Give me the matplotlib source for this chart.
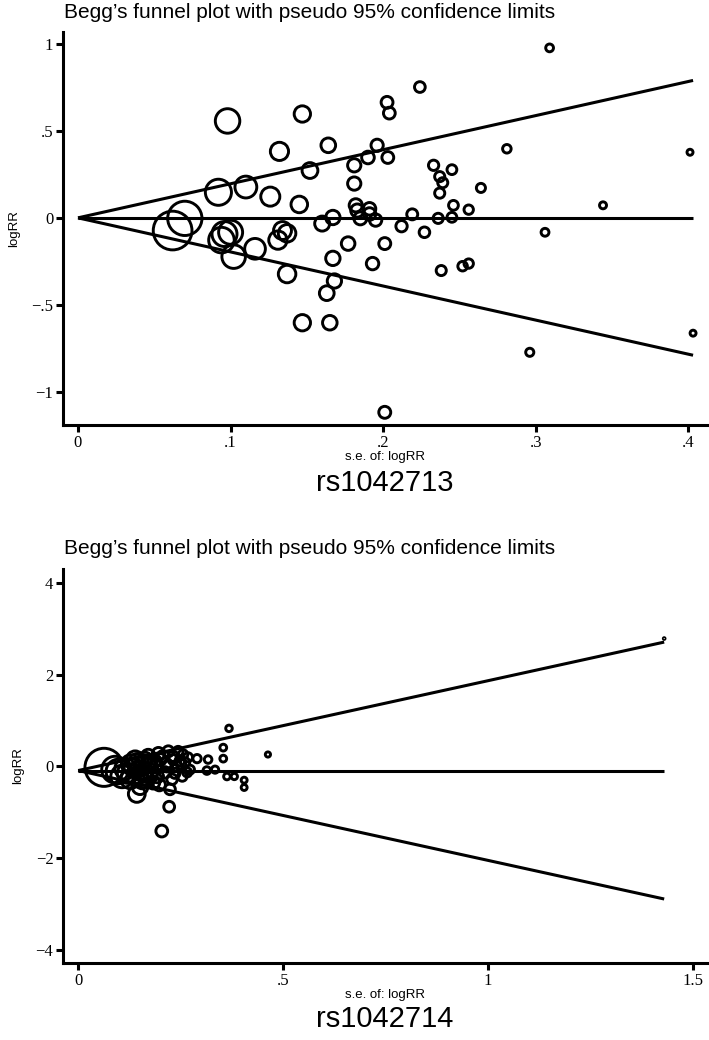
#!/usr/bin/env python3
"""Begg's funnel plots for rs1042713 and rs1042714"""

import matplotlib
matplotlib.use('Agg')
import matplotlib.pyplot as plt
import numpy as np

# rs1042713: standard error and log relative risk for each study
se_713 = [0.062, 0.070, 0.092, 0.098, 0.096, 0.100, 0.094, 0.102, 0.110, 0.116,
          0.126, 0.132, 0.131, 0.134, 0.137, 0.137, 0.145, 0.147, 0.152, 0.147,
          0.160, 0.164, 0.167, 0.167, 0.168, 0.163, 0.165, 0.177, 0.181, 0.181,
          0.182, 0.183, 0.185, 0.191, 0.191, 0.195, 0.190, 0.196, 0.203, 0.2025,
          0.204, 0.193, 0.201, 0.201, 0.212, 0.219, 0.224, 0.227, 0.233, 0.237,
          0.239, 0.237, 0.245, 0.246, 0.245, 0.236, 0.256, 0.264, 0.238, 0.252,
          0.256, 0.281, 0.296, 0.306, 0.309, 0.344, 0.401, 0.403]
logrr_713 = [-0.07, 0.00, 0.15, 0.56, -0.09, -0.08, -0.125, -0.22, 0.18, -0.175,
             0.125, 0.385, -0.125, -0.07, -0.086, -0.32, 0.08, 0.60, 0.275, -0.60,
             -0.03, 0.42, 0.005, -0.23, -0.36, -0.43, -0.60, -0.145, 0.305, 0.20,
             0.075, 0.045, 0.0, 0.055, 0.025, -0.01, 0.35, 0.42, 0.35, 0.667,
             0.605, -0.26, -0.145, -1.115, -0.045, 0.023, 0.755, -0.08, 0.305, 0.24,
             0.205, 0.145, 0.28, 0.075, 0.006, 0.0, 0.05, 0.175, -0.30, -0.275,
             -0.26, 0.40, -0.77, -0.08, 0.98, 0.075, 0.38, -0.66]
summary_713 = 0.003

# rs1042714
se_714 = [0.063, 0.090, 0.098, 0.107, 0.115, 0.120, 0.127, 0.134, 0.139, 0.143,
          0.144, 0.151, 0.151, 0.159, 0.160, 0.163, 0.168, 0.171, 0.175, 0.180,
          0.183, 0.188, 0.193, 0.196, 0.200, 0.204, 0.207, 0.212, 0.217, 0.220,
          0.222, 0.224, 0.229, 0.232, 0.232, 0.241, 0.244, 0.248, 0.254, 0.256,
          0.261, 0.266, 0.273, 0.290, 0.314, 0.317, 0.334, 0.354, 0.354, 0.363,
          0.368, 0.381, 0.405, 0.405, 0.463, 1.430,
          0.128, 0.147, 0.156, 0.176, 0.186, 0.198, 0.214, 0.236, 0.251, 0.268]
logrr_714 = [-0.02, -0.07, -0.11, -0.22, -0.05, -0.15, -0.28, -0.02, 0.15, -0.60,
             0.10, -0.13, -0.44, 0.09, -0.18, 0.15, -0.28, 0.22, 0.05, -0.10,
             -0.35, 0.00, -0.22, 0.28, 0.15, -1.41, 0.22, -0.13, 0.00, 0.33,
             -0.88, -0.50, -0.28, 0.22, 0.15, 0.00, 0.33, 0.12, -0.22, 0.26,
             0.09, -0.13, -0.07, 0.17, -0.09, 0.15, -0.07, 0.41, 0.17, -0.22,
             0.83, -0.22, -0.30, -0.46, 0.26, 2.79,
             0.05, -0.05, -0.32, -0.20, 0.12, -0.40, 0.06, -0.15, 0.05, 0.20]
summary_714 = -0.09

panels = [
    dict(se=se_713, y=logrr_713, mu=summary_713, name='rs1042713', name_off=0.055,
         xlim=(-0.0098, 0.412), ylim=(-1.19, 1.07),
         xticks=[0, 0.1, 0.2, 0.3, 0.4], xlabels=['0', '.1', '.2', '.3', '.4'],
         yticks=[-1, -0.5, 0, 0.5, 1], ylabels=['\u22121', '\u2212.5', '0', '.5', '1'],
         rect=[0.0889, 0.591, 0.908, 0.378]),
    dict(se=se_714, y=logrr_714, mu=summary_714, name='rs1042714', name_off=0.054,
         xlim=(-0.037, 1.534), ylim=(-4.29, 4.31),
         xticks=[0, 0.5, 1, 1.5], xlabels=['0', '.5', '1', '1.5'],
         yticks=[-4, -2, 0, 2, 4], ylabels=['\u22124', '\u22122', '0', '2', '4'],
         rect=[0.0889, 0.074, 0.908, 0.379]),
]

fig = plt.figure(figsize=(7.09, 10.40), dpi=100)

for p in panels:
    ax = fig.add_axes(p['rect'])
    se = np.array(p['se'])
    y = np.array(p['y'])

    # pseudo 95% confidence limits
    smax = se.max()
    lw = 2.2
    ax.plot([0, smax], [p['mu'], p['mu'] + 1.96 * smax], color='black', lw=lw, solid_capstyle='butt')
    ax.plot([0, smax], [p['mu'], p['mu'] - 1.96 * smax], color='black', lw=lw, solid_capstyle='butt')
    ax.plot([0, smax], [p['mu'], p['mu']], color='black', lw=lw, solid_capstyle='butt')

    # marker radius ~ 1/se (inverse-variance weights on area)
    r_px = 1.2 / se
    sizes = (2 * r_px * 0.72) ** 2
    ax.scatter(se, y, s=sizes, facecolors='none', edgecolors='black', linewidths=2.1, zorder=3)

    ax.set_xlim(p['xlim'])
    ax.set_ylim(p['ylim'])
    ax.set_xticks(p['xticks'])
    ax.set_xticklabels(p['xlabels'], family='Liberation Serif', fontsize=12)
    ax.set_yticks(p['yticks'])
    ax.set_yticklabels(p['ylabels'], family='Liberation Serif', fontsize=12)
    ax.tick_params(direction='out', length=5, width=2.2, pad=2)
    for s in ['top', 'right']:
        ax.spines[s].set_visible(False)
    for s in ['left', 'bottom']:
        ax.spines[s].set_linewidth(2.2)

    ax.set_xlabel('s.e. of: logRR', family='Liberation Sans', fontsize=9.5, labelpad=0)
    ax.set_ylabel('logRR', family='Liberation Sans', fontsize=9.5, labelpad=8)

    x0, y0, w, h = p['rect']
    fig.text(x0 + 0.002, y0 + h + 0.010, "Begg\u2019s funnel plot with pseudo 95% confidence limits",
             family='Liberation Sans', fontsize=15, ha='left', va='bottom')
    fig.text(x0 + w / 2, y0 - p['name_off'], p['name'], family='Liberation Sans', fontsize=21,
             ha='center', va='center')

fig.savefig('out.png', dpi=100)
plt.close(fig)
